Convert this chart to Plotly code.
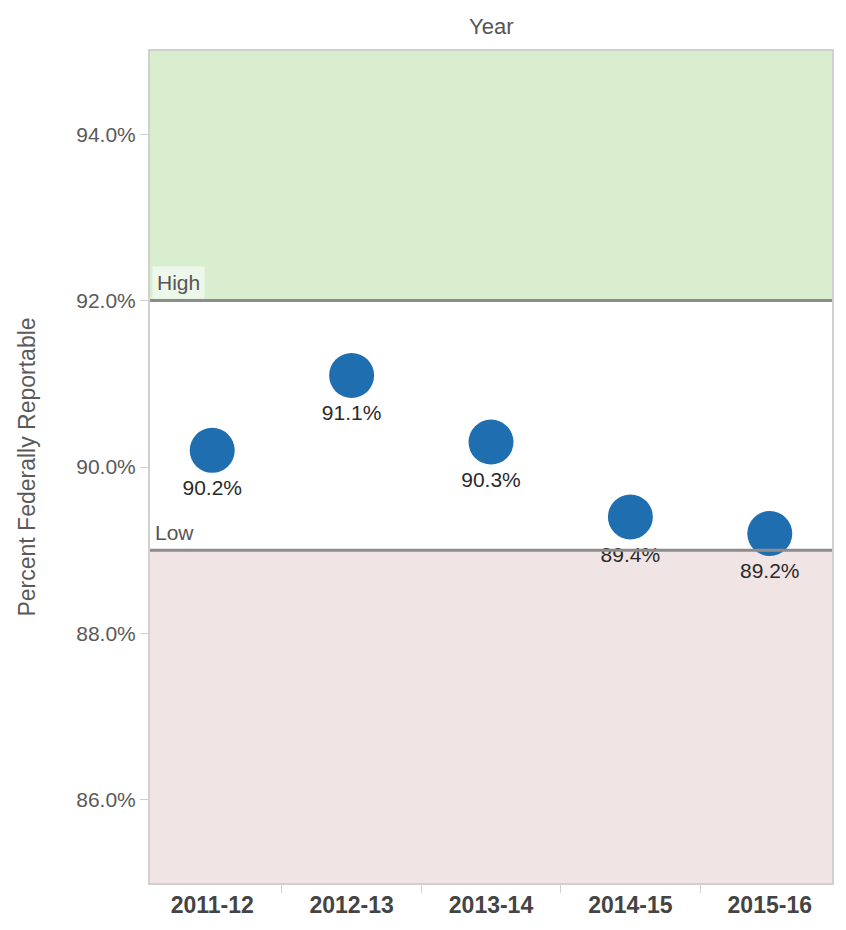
import plotly.graph_objects as go

# Percent of records that are federally reportable, by school year
years = ["2011-12", "2012-13", "2013-14", "2014-15", "2015-16"]
pct_reportable = [90.2, 91.1, 90.3, 89.4, 89.2]

# Reference bands
high_threshold = 92.0
low_threshold = 89.0
y_min, y_max = 85.0, 95.0
y_ticks = [86, 88, 90, 92, 94]

FONT = "Arial, Liberation Sans, sans-serif"

fig = go.Figure()

fig.add_trace(go.Scatter(
    x=years,
    y=pct_reportable,
    mode="markers+text",
    marker=dict(size=45, color="#1f6fb0", line=dict(width=0)),
    text=[f"{v:.1f}%" for v in pct_reportable],
    textposition="bottom center",
    textfont=dict(family=FONT, size=21, color="#2a2a2a"),
    hoverinfo="skip",
    cliponaxis=False,
))

# Background bands: above "High" and below "Low"
fig.add_shape(type="rect", xref="paper", yref="y", x0=0, x1=1,
              y0=high_threshold, y1=y_max, fillcolor="#d9eecf",
              line=dict(width=0), layer="below")
fig.add_shape(type="rect", xref="paper", yref="y", x0=0, x1=1,
              y0=y_min, y1=low_threshold, fillcolor="#f1e4e4",
              line=dict(width=0), layer="below")

# Threshold lines
for level in (high_threshold, low_threshold):
    fig.add_shape(type="line", xref="paper", yref="y", x0=0, x1=1,
                  y0=level, y1=level, line=dict(color="#8c8c8c", width=3),
                  layer="above")

fig.add_annotation(xref="paper", yref="y", x=0, y=high_threshold,
                   text="High", showarrow=False, xanchor="left", yanchor="bottom",
                   xshift=2, yshift=2, bgcolor="rgba(240,248,236,0.9)",
                   borderpad=4,
                   font=dict(family=FONT, size=21, color="#555555"))
fig.add_annotation(xref="paper", yref="y", x=0, y=low_threshold,
                   text="Low", showarrow=False, xanchor="left", yanchor="bottom",
                   xshift=3, yshift=4,
                   font=dict(family=FONT, size=21, color="#555555"))

# Column header
fig.add_annotation(xref="paper", yref="paper", x=0.5, y=1,
                   text="Year", showarrow=False, xanchor="center", yanchor="bottom",
                   yshift=10,
                   font=dict(family=FONT, size=22, color="#555555"))

fig.update_xaxes(
    type="category",
    tickson="boundaries",
    ticks="outside",
    ticklen=8,
    tickcolor="#d0d0d0",
    tickfont=dict(family=FONT, size=23, color="#444444", weight="bold"),
    showline=True,
    linecolor="#d0d0d0",
    linewidth=2,
    mirror=True,
    showgrid=False,
    zeroline=False,
    fixedrange=True,
)
fig.update_yaxes(
    range=[y_min, y_max],
    tickvals=y_ticks,
    ticktext=[f"{t:.1f}%" for t in y_ticks],
    ticks="outside",
    ticklen=8,
    tickcolor="#d0d0d0",
    tickfont=dict(family=FONT, size=21, color="#5a5a5a"),
    title=dict(text="Percent Federally Reportable",
               font=dict(family=FONT, size=23, color="#5a5a5a"),
               standoff=34),
    showline=True,
    linecolor="#d0d0d0",
    linewidth=2,
    mirror=True,
    showgrid=False,
    zeroline=False,
    fixedrange=True,
)

fig.update_layout(
    width=846,
    height=930,
    margin=dict(l=150, r=12, t=51, b=46),
    paper_bgcolor="white",
    plot_bgcolor="white",
    showlegend=False,
)

fig.write_html("out.html")
